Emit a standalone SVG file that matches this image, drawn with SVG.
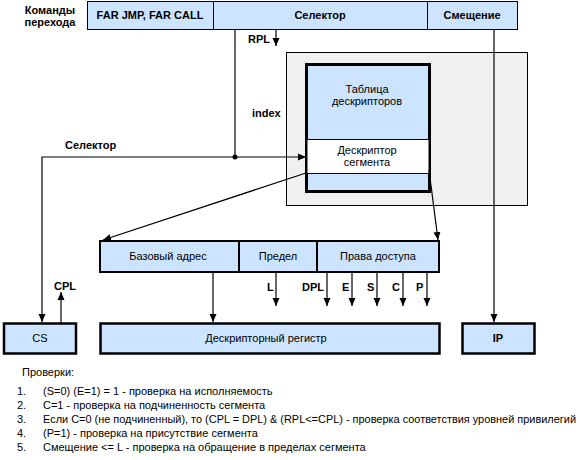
<svg xmlns="http://www.w3.org/2000/svg" width="580" height="460" viewBox="0 0 580 460">
<defs>
<style>
text{font-family:"Liberation Sans",Arial,sans-serif;font-size:11px;fill:#000}
.b{font-weight:bold}
.m{text-anchor:middle}
.blue{fill:#cce4ff;stroke:#000}
.ln{stroke:#000;stroke-width:1.2;fill:none}
.arr{marker-end:url(#ah)}
</style>
<marker id="ah" markerUnits="userSpaceOnUse" markerWidth="8" markerHeight="10" viewBox="0 0 8 10" refX="8" refY="5" orient="auto">
<path d="M0,1.5 L8,5 L0,8.5 Z" fill="#000"/>
</marker>
</defs>

<g id="label-commands">
<text class="b m" x="50" y="14">Команды</text>
<text class="b m" x="50" y="26">перехода</text>
</g>

<g id="top-bar">
<rect class="blue" x="87.5" y="1.5" width="430" height="28" stroke-width="1"/>
<line x1="213.5" y1="1.5" x2="213.5" y2="29.5" stroke="#000"/>
<line x1="427.5" y1="1.5" x2="427.5" y2="29.5" stroke="#000"/>
<text class="b m" x="150" y="19">FAR JMP, FAR CALL</text>
<text class="b m" x="320" y="19">Селектор</text>
<text class="b m" x="472" y="19">Смещение</text>
</g>

<g id="gdt">
<rect x="286.5" y="52.5" width="241" height="153" fill="#f0f0f0" stroke="#000"/>
</g>

<g id="table">
<rect x="306.5" y="64.5" width="123" height="127" fill="#cce4ff" stroke="#000" stroke-width="3"/>
<rect x="307" y="139.5" width="122" height="34" fill="#fff" stroke="#000" stroke-width="1"/>
<text class="m" x="367" y="93">Таблица</text>
<text class="m" x="367" y="105">дескрипторов</text>
<text class="m" x="367" y="154">Дескриптор</text>
<text class="m" x="367" y="166">сегмента</text>
</g>

<g id="descriptor-row">
<rect class="blue" x="100" y="241" width="339" height="31" stroke-width="2"/>
<line x1="239" y1="241" x2="239" y2="272" stroke="#000" stroke-width="2"/>
<line x1="317" y1="241" x2="317" y2="272" stroke="#000" stroke-width="2"/>
<text class="m" x="168" y="260">Базовый адрес</text>
<text class="m" x="278" y="260">Предел</text>
<text class="m" x="378" y="260">Права доступа</text>
</g>

<g id="cs">
<rect class="blue" x="4" y="323.5" width="72" height="30" stroke-width="2.5"/>
<text class="m" x="40" y="342">CS</text>
</g>

<g id="register">
<rect class="blue" x="100.5" y="323.5" width="339" height="30" stroke-width="2.5"/>
<text class="m" x="266" y="342">Дескрипторный регистр</text>
</g>

<g id="ip">
<rect class="blue" x="462.5" y="323.5" width="72" height="30" stroke-width="2.5"/>
<text class="b m" x="498" y="342">IP</text>
</g>

<g id="connectors">
<line class="ln" x1="235" y1="30" x2="235" y2="157"/>
<line class="ln arr" x1="276" y1="30" x2="276" y2="46"/>
<line class="ln arr" x1="235" y1="157" x2="306" y2="157"/>
<path class="ln arr" d="M235,157 H42 V322"/>
<circle cx="235" cy="157" r="2.5" fill="#000"/>
<line class="ln arr" x1="306" y1="173" x2="103" y2="240"/>
<line class="ln arr" x1="429" y1="170" x2="438" y2="240"/>
<line class="ln arr" x1="494" y1="30" x2="494" y2="322"/>
<line class="ln arr" x1="213" y1="272" x2="213" y2="322"/>
<line class="ln arr" x1="61" y1="323" x2="61" y2="292"/>
<line class="ln arr" x1="276" y1="272" x2="276" y2="306"/>
<line class="ln arr" x1="327" y1="272" x2="327" y2="306"/>
<line class="ln arr" x1="352" y1="272" x2="352" y2="306"/>
<line class="ln arr" x1="377" y1="272" x2="377" y2="306"/>
<line class="ln arr" x1="403" y1="272" x2="403" y2="306"/>
<line class="ln arr" x1="427" y1="272" x2="427" y2="306"/>
</g>

<g id="labels">
<text class="b" x="248" y="43">RPL</text>
<text class="b" x="252" y="117">index</text>
<text class="b" x="65" y="149">Селектор</text>
<text class="b" x="54" y="290">CPL</text>
<text class="b" x="267" y="291">L</text>
<text class="b" x="302" y="291">DPL</text>
<text class="b" x="342" y="291">E</text>
<text class="b" x="367" y="291">S</text>
<text class="b" x="392" y="291">C</text>
<text class="b" x="416" y="291">P</text>
</g>

<g id="notes">
<text x="22" y="376">Проверки:</text>
<text x="17" y="395">1.</text>
<text x="43" y="395">(S=0) (E=1) = 1 - проверка на исполняемость</text>
<text x="17" y="409">2.</text>
<text x="43" y="409">C=1 - проверка на подчиненность сегмента</text>
<text x="17" y="423">3.</text>
<text x="43" y="423" textLength="533" lengthAdjust="spacingAndGlyphs">Если C=0 (не подчиненный), то (CPL = DPL) &amp; (RPL&lt;=CPL) - проверка соответствия уровней привилегий</text>
<text x="17" y="437">4.</text>
<text x="43" y="437">(P=1) - проверка на присутствие сегмента</text>
<text x="17" y="451">5.</text>
<text x="43" y="451">Смещение &lt;= L - проверка на обращение в пределах сегмента</text>
</g>
</svg>
